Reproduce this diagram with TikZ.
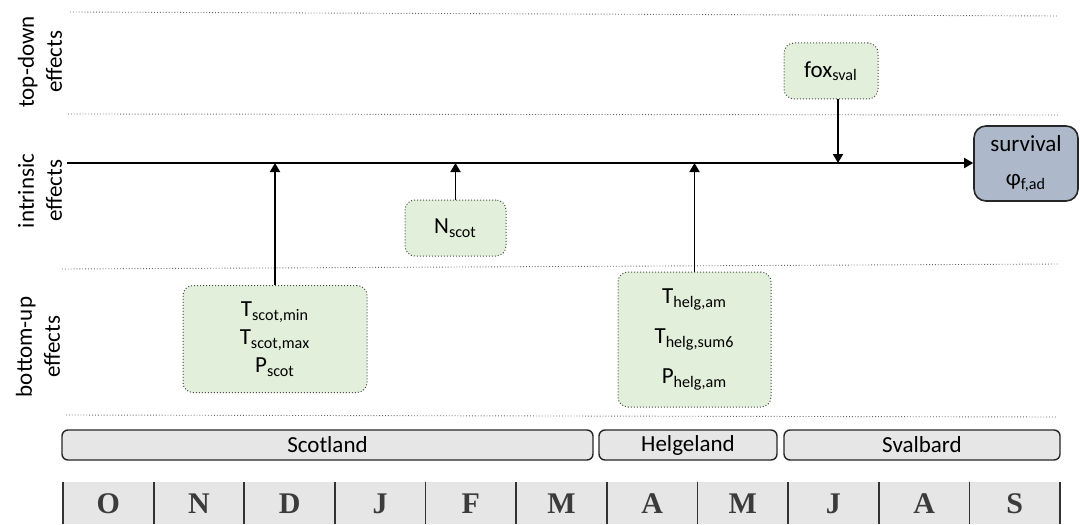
\documentclass[tikz,border=0pt]{standalone}
\usepackage{fontspec}
\setmainfont{Carlito}
\newfontfamily\monthfont{Liberation Serif}
\usetikzlibrary{arrows.meta}
\definecolor{effgreen}{HTML}{E2EFDA}
\definecolor{survblue}{HTML}{ADB9CA}
\definecolor{bargrey}{HTML}{E7E6E6}
\definecolor{monthgrey}{HTML}{3B3B3B}

\begin{document}
\begin{tikzpicture}[x=0.5pt,y=0.5pt,yscale=-1,xscale=1,
    font=\fontsize{11.5}{14}\selectfont,
    guide/.style={densely dotted, gray!80!black, line width=0.45pt},
    effect/.style={draw=gray!60!black, densely dotted, line width=0.5pt, fill=effgreen, rounded corners=5pt, align=center, inner sep=0pt},
    target/.style={draw=black!85, line width=0.8pt, fill=survblue, rounded corners=6pt, align=center, inner sep=0pt, minimum width=52pt, minimum height=37.5pt},
    regbar/.style={draw=black!85, line width=0.7pt, fill=bargrey, rounded corners=3pt},
    month/.style={font=\monthfont\fontsize{15}{15}\selectfont\bfseries, text=monthgrey},
    flow/.style={line width=0.9pt, -{Triangle[length=4.5pt,width=5pt]}},
    side/.style={rotate=90, align=center}]
    \useasboundingbox (0,0) rectangle (1080,524);

    \draw [guide] (70,12) -- (1058,16) ;
    \draw [guide] (68,114) -- (1058,115) ;
    \draw [guide] (62,269) -- (1058,264) ;
    \draw [guide] (66,415) -- (1056,417) ;

    \node [side] (topdown) at (40,62) {top-down\\effects};
    \node [side] (intrinsic) at (40,191) {intrinsic\\effects};
    \node [side] (bottomup) at (38,347) {bottom-up\\effects};

    \node [target] (surv) at (1026,163.5) {survival\\[3pt]φ\textsubscript{f,ad}};
    \coordinate (start) at (67,163);
    \draw [flow] (start) -- (surv.west |- start) ;

    \node [effect, minimum width=47pt, minimum height=28pt] (fox) at (831,71) {fox\textsubscript{sval}};
    \node [effect, minimum width=50.5pt, minimum height=28pt] (nscot) at (455.5,228) {N\textsubscript{scot}};
    \node [effect, minimum width=92pt, minimum height=53.5pt] (tscot) at (275,339) {T\textsubscript{scot,min}\\T\textsubscript{scot,max}\\P\textsubscript{scot}};
    \node [effect, minimum width=76.5pt, minimum height=67.5pt] (thelg) at (694.5,339.5) {T\textsubscript{helg,am}\\[6pt]T\textsubscript{helg,sum6}\\[6pt]P\textsubscript{helg,am}};

    \coordinate (foxhit) at (838,163);
    \draw [flow] (foxhit |- fox.south) -- (foxhit) ;
    \draw [flow] (nscot.north) -- (nscot.north |- start) ;
    \draw [flow] (tscot.north) -- (tscot.north |- start) ;
    \draw [flow] (thelg.north) -- (thelg.north |- start) ;

    \draw [regbar] (62,430) rectangle (593,460) ;
    \draw [regbar] (599,430) rectangle (777,460) ;
    \draw [regbar] (784,430) rectangle (1060,460) ;
    \node (scot) at (327.5,445) {Scotland};
    \node (helg) at (688,445) {Helgeland};
    \node (sval) at (922,445) {Svalbard};

    \fill [bargrey] (63,482) rectangle (1060,524) ;
    \foreach \i in {0,...,11}
      \draw [line width=0.9pt, black!80] ({63+90.64*\i},482) -- ({63+90.64*\i},524) ;
    \foreach \m [count=\i from 0] in {O,N,D,J,F,M,A,M,J,A,S}
      \node [month] (m\i) at ({63+90.64*(\i+0.5)},504) {\m};
  \end{tikzpicture}
\end{document}
